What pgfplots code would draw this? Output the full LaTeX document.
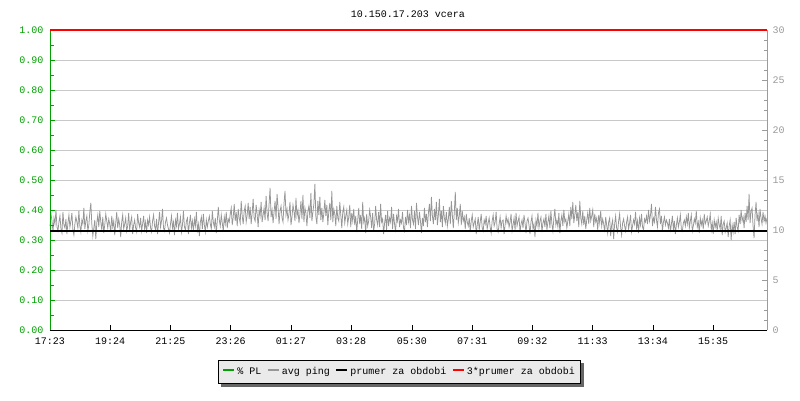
\documentclass[border=0pt]{standalone}
\usepackage{pgfplots}
\pgfplotsset{compat=1.18}
\usepackage{pgfplotstable}
\usepackage{fontspec}
\setmainfont{Liberation Mono}
\usetikzlibrary{backgrounds}
\definecolor{plgreen}{RGB}{0,160,0}
\definecolor{pinggray}{RGB}{150,150,150}
\definecolor{gridgray}{RGB}{200,200,200}
\definecolor{leggray}{RGB}{234,234,234}
\definecolor{rgray}{RGB}{155,155,155}
\definecolor{shadowgray}{RGB}{102,102,102}
% avg ping [ms], one value every 2 minutes from 17:23
\pgfplotstableread[row sep=\\, header=false]{
10.4\\11.6\\10.9\\9.8\\11.2\\10.6\\12.0\\10.3\\9.9\\10.8\\11.4\\10.1\\9.7\\11.8\\10.5\\10.2\\11.1\\9.6\\10.7\\11.5\\
10.3\\10.9\\11.7\\10.0\\9.5\\10.6\\11.3\\10.8\\10.2\\11.9\\10.4\\9.8\\11.0\\10.6\\12.2\\10.1\\10.9\\11.4\\9.9\\10.5\\
11.8\\12.7\\10.6\\9.4\\10.2\\11.0\\9.1\\10.7\\11.5\\10.3\\11.9\\10.8\\10.0\\11.3\\9.7\\10.5\\11.6\\10.9\\10.2\\11.1\\
10.6\\9.8\\11.4\\10.3\\10.9\\9.5\\10.7\\11.8\\10.2\\11.1\\10.5\\9.3\\10.8\\11.5\\10.1\\10.6\\11.2\\9.9\\10.4\\11.7\\
10.0\\10.8\\11.3\\9.6\\10.5\\11.0\\10.2\\9.8\\11.6\\10.7\\10.3\\11.2\\9.9\\10.6\\11.4\\10.1\\10.8\\9.7\\11.0\\10.5\\
11.3\\10.2\\9.8\\10.9\\11.5\\10.4\\10.0\\11.1\\9.6\\10.7\\11.8\\10.3\\10.9\\12.1\\10.2\\9.9\\10.8\\11.2\\10.5\\10.1\\
9.7\\10.6\\11.4\\10.2\\10.8\\9.5\\11.0\\10.4\\11.7\\10.1\\10.6\\11.3\\9.8\\10.5\\11.9\\10.3\\10.0\\10.9\\11.2\\9.6\\
10.7\\11.5\\10.2\\10.9\\9.9\\11.1\\10.4\\11.8\\10.0\\10.6\\9.4\\10.8\\11.3\\10.1\\11.6\\10.5\\9.8\\11.0\\10.3\\10.9\\
11.4\\10.6\\10.1\\11.9\\10.8\\10.3\\11.2\\9.7\\10.9\\12.3\\11.0\\10.4\\11.5\\10.7\\9.9\\11.3\\10.6\\11.8\\10.2\\11.1\\
10.8\\11.6\\12.2\\10.5\\11.3\\12.6\\10.9\\11.8\\10.4\\12.1\\11.2\\10.7\\12.9\\11.4\\10.6\\11.9\\12.4\\10.8\\11.5\\12.7\\
11.1\\12.3\\10.6\\11.7\\13.1\\11.2\\10.9\\12.5\\11.6\\10.3\\12.0\\11.4\\12.8\\10.8\\11.5\\12.2\\11.0\\13.4\\11.7\\10.9\\
12.6\\14.2\\11.3\\12.0\\10.7\\11.8\\12.9\\11.1\\13.6\\12.3\\10.6\\11.9\\12.4\\11.2\\10.8\\12.7\\13.9\\11.5\\12.1\\11.0\\
11.6\\12.8\\10.5\\11.3\\12.5\\11.9\\10.9\\13.2\\11.4\\12.0\\10.7\\11.6\\12.9\\11.1\\13.5\\10.8\\12.2\\11.7\\10.4\\11.9\\
12.4\\11.2\\13.7\\10.9\\11.8\\12.6\\14.6\\11.3\\10.6\\12.9\\11.5\\13.3\\11.0\\12.2\\10.8\\11.7\\13.0\\11.4\\12.5\\10.5\\
11.9\\12.7\\11.0\\13.9\\10.8\\12.1\\11.6\\10.4\\12.4\\11.2\\10.9\\12.8\\11.5\\10.2\\11.8\\12.3\\10.7\\11.4\\12.0\\10.6\\
11.3\\12.5\\10.3\\11.7\\10.9\\12.1\\10.5\\11.4\\9.8\\11.0\\12.2\\10.6\\11.5\\10.1\\12.8\\10.8\\11.2\\9.7\\11.6\\10.4\\
10.9\\12.0\\11.3\\10.2\\11.7\\9.9\\10.6\\12.4\\11.0\\10.5\\11.8\\10.3\\12.6\\10.8\\11.1\\9.6\\10.7\\11.5\\10.0\\11.9\\
10.4\\11.2\\10.8\\12.3\\10.1\\11.6\\10.6\\9.8\\11.4\\10.9\\12.1\\10.3\\11.0\\10.7\\11.8\\10.2\\9.9\\11.3\\10.5\\12.0\\
10.8\\11.5\\10.2\\12.4\\11.0\\10.6\\11.9\\10.1\\12.7\\11.3\\10.5\\11.8\\10.9\\9.7\\11.2\\10.4\\12.2\\10.8\\11.6\\10.3\\
11.7\\12.6\\10.9\\13.3\\11.4\\10.6\\12.1\\11.0\\12.8\\10.5\\11.5\\13.1\\10.8\\11.9\\10.3\\12.4\\11.2\\10.7\\11.8\\10.4\\
11.1\\12.3\\10.6\\12.9\\11.5\\10.2\\11.8\\13.8\\11.0\\12.2\\10.7\\11.4\\12.6\\10.5\\11.9\\10.9\\11.3\\10.1\\11.6\\10.8\\
10.4\\11.2\\9.8\\10.9\\11.5\\10.3\\10.7\\11.1\\9.6\\10.5\\11.3\\10.0\\10.8\\11.6\\10.2\\9.9\\11.0\\10.6\\11.4\\10.1\\
10.7\\11.2\\10.3\\9.7\\10.9\\11.5\\10.4\\10.8\\11.8\\10.1\\9.8\\10.6\\11.3\\10.2\\10.9\\11.0\\9.6\\10.5\\11.4\\10.7\\
11.1\\10.3\\10.8\\11.6\\9.9\\10.5\\11.2\\10.0\\11.7\\10.4\\10.9\\11.3\\9.8\\10.6\\11.0\\10.2\\11.5\\10.7\\9.7\\10.9\\
11.2\\10.5\\9.6\\10.8\\11.4\\10.1\\10.6\\9.3\\11.0\\10.4\\11.7\\10.2\\10.9\\11.3\\9.8\\10.7\\11.1\\10.3\\11.6\\10.0\\
10.8\\11.4\\10.2\\11.9\\10.6\\9.9\\11.2\\12.1\\10.5\\11.0\\10.3\\11.7\\9.7\\10.9\\11.5\\10.4\\12.0\\10.8\\11.1\\10.2\\
10.9\\11.6\\10.4\\12.3\\11.1\\12.8\\10.7\\11.5\\12.5\\10.9\\11.8\\10.3\\12.9\\11.2\\10.6\\11.9\\10.5\\11.4\\10.1\\11.0\\
11.7\\10.6\\12.2\\10.9\\11.4\\12.0\\10.3\\11.6\\10.8\\11.2\\10.0\\11.5\\10.7\\11.9\\10.4\\11.1\\10.6\\9.8\\11.3\\10.5\\
9.7\\10.8\\11.2\\9.4\\10.5\\11.0\\9.1\\10.6\\11.4\\10.2\\9.8\\10.9\\11.6\\10.3\\9.5\\10.7\\11.1\\10.4\\9.9\\10.8\\
11.3\\10.1\\10.7\\11.5\\9.8\\10.4\\11.0\\10.6\\11.8\\10.2\\10.9\\9.7\\11.2\\10.5\\11.6\\10.3\\10.0\\11.1\\10.8\\11.4\\
10.6\\12.0\\10.9\\11.5\\12.6\\10.4\\11.2\\10.8\\12.3\\11.0\\10.3\\11.7\\12.1\\10.6\\11.4\\9.9\\10.8\\11.3\\10.5\\11.0\\
10.7\\10.2\\11.1\\9.8\\10.6\\11.4\\10.0\\10.9\\9.6\\10.5\\11.2\\10.3\\10.8\\11.5\\10.1\\9.9\\10.7\\11.0\\10.4\\11.3\\
10.6\\11.7\\10.2\\10.9\\11.5\\9.9\\10.4\\11.1\\10.7\\11.9\\10.3\\10.8\\9.7\\11.2\\10.5\\11.0\\10.1\\11.6\\10.6\\10.9\\
11.3\\10.4\\10.9\\11.6\\10.0\\10.7\\9.6\\11.0\\10.3\\10.8\\9.9\\11.2\\10.5\\10.1\\11.4\\9.5\\10.6\\10.9\\9.8\\10.2\\
10.7\\9.3\\10.4\\11.0\\9.0\\10.5\\9.8\\10.8\\9.6\\11.2\\10.3\\9.9\\11.5\\10.6\\12.0\\10.9\\11.3\\10.2\\11.7\\10.8\\
12.4\\11.0\\13.6\\10.7\\11.9\\12.2\\10.4\\9.2\\11.5\\12.8\\10.9\\11.6\\10.3\\12.1\\11.2\\10.6\\11.8\\10.9\\11.4\\10.7\\
11.2\\
}\pingdata
\begin{document}
\begin{tikzpicture}
\useasboundingbox (0pt,0pt) rectangle (800pt,400pt);
\node[font=\fontsize{10}{12}\selectfont, anchor=base] at (408pt,382pt) {10.150.17.203 vcera};
% right axis (avg ping) drawn first, behind
\begin{axis}[
  at={(50pt,70pt)}, anchor=south west, scale only axis, width=717pt, height=300pt,
  xmin=0, xmax=1440, ymin=0, ymax=30,
  axis x line=none, axis y line*=right,
  y axis line style={rgray},
  ytick={0,5,...,30}, minor y tick num=4,
  tick align=inside, major tick length=5pt, minor tick length=3.5pt,
  ytick style={rgray},
  yticklabel style={rgray, font=\fontsize{10}{12}\selectfont, xshift=2pt},
  /pgf/number format/assume math mode=true,
  extra y ticks={3,6,9,12,15,18,21,24,27},
  extra y tick labels={},
  extra y tick style={grid=major, major tick length=0pt},
  grid style={gridgray, line width=0.8pt},
  clip=false,
]
\addplot[pinggray, line width=0.75pt] table[x expr=\coordindex*2, y index=0] {\pingdata};
\end{axis}
% left axis (% PL) with legend
\begin{axis}[
  at={(50pt,70pt)}, anchor=south west, scale only axis, width=717pt, height=300pt,
  xmin=0, xmax=1440, ymin=0, ymax=1,
  axis x line*=bottom, axis y line*=left,
  x axis line style={black, line width=0.8pt},
  y axis line style={plgreen, line width=0.8pt},
  xtick={0,121,242,363,484,605,727,848,969,1090,1211,1332},
  xticklabels={17:23,19:24,21:25,23:26,01:27,03:28,05:30,07:31,09:32,11:33,13:34,15:35},
  ytick={0,0.1,...,1.0}, minor y tick num=1,
  tick align=inside, major tick length=5pt, minor tick length=4pt,
  xtick style={black, line width=0.8pt},
  ytick style={plgreen, line width=0.8pt},
  yticklabel style={plgreen, xshift=-3pt, /pgf/number format/fixed, /pgf/number format/fixed zerofill, /pgf/number format/precision=2},
  xticklabel style={yshift=-4pt},
  /pgf/number format/assume math mode=true,
  tick label style={font=\fontsize{10}{12}\selectfont},
  legend columns=4,
  legend style={name=leg, at={(0.4875,-0.1)}, anchor=north, fill=leggray, draw=black, line width=0.8pt,
    font=\fontsize{10}{12}\selectfont, inner xsep=4pt, inner ysep=5pt,
    /tikz/every even column/.append style={column sep=3.5pt}},
  legend image code/.code={\draw[#1, line width=2pt] (0pt,2pt) -- (11pt,2pt);},
  clip=false,
]
\addlegendimage{plgreen}
\addlegendentry{\% PL}
\addlegendimage{pinggray}
\addlegendentry{avg ping}
\addplot[black, line width=2.4pt] coordinates {(0,0.33)(1440,0.33)};
\addlegendentry{prumer za obdobi}
\addplot[red, line width=1.2pt] coordinates {(0,1)(1440,1)};
\addlegendentry{3*prumer za obdobi}
\end{axis}
\begin{scope}[on background layer]
\fill[white] (0pt,0pt) rectangle (800pt,400pt);
\fill[shadowgray] ([shift={(3pt,-3pt)}]leg.south west) rectangle ([shift={(3pt,-3pt)}]leg.north east);
\end{scope}
\end{tikzpicture}
\end{document}
